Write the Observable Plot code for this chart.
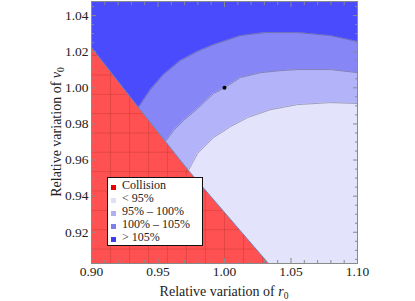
<!DOCTYPE html>
<html><head><meta charset="utf-8">
<script src="https://cdn.jsdelivr.net/npm/d3@7"></script>
<script src="https://cdn.jsdelivr.net/npm/@observablehq/plot@0.6"></script>
<style>
body{margin:0;background:#fff;}
#wrap{position:relative;width:415px;height:301px;font-family:"Liberation Serif","Times New Roman","DejaVu Serif",serif;color:#222;}
#wrap svg{position:absolute;left:0;top:0;}
.xlab{position:absolute;left:91px;width:266px;top:284px;text-align:center;font-size:14px;line-height:15px;white-space:nowrap;}
.ylab{position:absolute;left:56px;top:132px;font-size:14px;line-height:15px;white-space:nowrap;transform:translate(-50%,-50%) rotate(-90deg);}
.legend{position:absolute;left:107px;top:177px;width:96px;height:69px;border:1px solid #111;background:#fff;font-size:12px;line-height:13px;padding-top:1px;box-sizing:border-box;}
.legend .row{position:relative;height:13px;padding-left:14px;white-space:nowrap;}
.legend .sw{position:absolute;left:3px;top:6px;width:5px;height:5px;}
sub{font-size:9.5px;vertical-align:-3px;line-height:0;}
</style></head><body><div id="wrap"></div>
<script>
// ---- data ----
const xDomain = [0.90, 1.10];
const yDomain = [0.9027, 1.0478];
const collisionX = [0.9000, 0.9353, 0.9729, 1.0331];
const collisionY = [1.0223, 0.9891, 0.9542, 0.9027];
const c105X = [0.9353, 0.9444, 0.9541, 0.9669, 0.9797, 0.9917, 1.0120, 1.0308, 1.0549, 1.0797, 1.1000];
const c105Y = [0.9891, 0.9990, 1.0073, 1.0151, 1.0201, 1.0239, 1.0289, 1.0306, 1.0306, 1.0289, 1.0256];
const c100X = [0.9556, 0.9617, 0.9692, 0.9797, 0.9917, 1.0000, 1.0120, 1.0271, 1.0421, 1.0549, 1.0797, 1.1000];
const c100Y = [0.9702, 0.9763, 0.9819, 0.9885, 0.9968, 1.0000, 1.0057, 1.0084, 1.0095, 1.0101, 1.0101, 1.0084];
const c95X = [0.9729, 0.9797, 0.9917, 1.0045, 1.0173, 1.0346, 1.0549, 1.0797, 1.1000];
const c95Y = [0.9542, 0.9636, 0.9724, 0.9785, 0.9835, 0.9879, 0.9907, 0.9918, 0.9913];
const refPointX = [1.00];
const refPointY = [1.00];
const meshX = [0.9143, 0.9286, 0.9429, 0.9571, 0.9714, 0.9857, 1.0000, 1.0143, 1.0286];
const meshY = [0.9107, 0.9214, 0.9321, 0.9429, 0.9536, 0.9643, 0.9750, 0.9857, 0.9964, 1.0071, 1.0179];
const xMajor = [0.90, 0.95, 1.00, 1.05, 1.10];
const xMinor = [0.91, 0.92, 0.93, 0.94, 0.96, 0.97, 0.98, 0.99, 1.01, 1.02, 1.03, 1.04, 1.06, 1.07, 1.08, 1.09];
const yMajor = [0.92, 0.94, 0.96, 0.98, 1.00, 1.02, 1.04];
const yMinor = [0.905, 0.91, 0.915, 0.925, 0.93, 0.935, 0.945, 0.95, 0.955, 0.965, 0.97, 0.975, 0.985, 0.99, 0.995, 1.005, 1.01, 1.015, 1.025, 1.03, 1.035, 1.045];
const categories = ["Collision", "< 95%", "95% \u2013 100%", "100% \u2013 105%", "> 105%"];
const fillColors = ["#ff5151", "#e3e3fb", "#b3b3f9", "#8686f6", "#4b4bfe"];
const swatchColors = ["#e80000", "#e0e0f4", "#b0b0f0", "#8080ec", "#3c3cf4"];

// ---- build ----
const pts = (xs, ys) => xs.map((x, i) => ({x, y: ys[i]}));
const collision = pts(collisionX, collisionY);
const band = (xs, ys) => [{x: xDomain[0], y: yDomain[0]}, ...pts(xs, ys)];
const yAt = d3.scaleLinear().domain(collisionX).range(collisionY);
const xAt = d3.scaleLinear().domain(collisionY).range(collisionX);
const tickStroke = "#8a8a8a";
const fmt = d3.format(".2f");

const chart = Plot.plot({
  width: 415, height: 301,
  marginLeft: 91, marginRight: 58, marginTop: 1, marginBottom: 38,
  x: {domain: xDomain, axis: null},
  y: {domain: yDomain, axis: null},
  style: {fontFamily: "'Liberation Serif', 'Times New Roman', 'DejaVu Serif', serif", fontSize: "13.5px", color: "#222", background: "transparent"},
  marks: [
    Plot.frame({fill: fillColors[1], stroke: null}),
    Plot.areaY(band(c95X, c95Y), {x: "x", y1: "y", y2: () => yDomain[1], fill: fillColors[2]}),
    Plot.areaY(band(c100X, c100Y), {x: "x", y1: "y", y2: () => yDomain[1], fill: fillColors[3]}),
    Plot.areaY(band(c105X, c105Y), {x: "x", y1: "y", y2: () => yDomain[1], fill: fillColors[4]}),
    Plot.areaY(collision, {x: "x", y1: () => yDomain[0], y2: "y", fill: fillColors[0]}),
    Plot.ruleX(meshX, {x: d => d, y1: () => yDomain[0], y2: d => yAt(d), stroke: "#c23a3a", strokeOpacity: 0.55, strokeWidth: 0.8}),
    Plot.ruleY(meshY, {y: d => d, x1: () => xDomain[0], x2: d => xAt(d), stroke: "#c23a3a", strokeOpacity: 0.55, strokeWidth: 0.8}),
    Plot.line(pts(c95X, c95Y), {x: "x", y: "y", stroke: "#8a8ab4", strokeWidth: 0.8}),
    Plot.line(pts(c100X, c100Y), {x: "x", y: "y", stroke: "#7474a8", strokeWidth: 0.8}),
    Plot.line(pts(c105X, c105Y), {x: "x", y: "y", stroke: "#6a6aa8", strokeWidth: 0.8}),
    Plot.line(collision, {x: "x", y: "y", stroke: "#6f86b8", strokeWidth: 1}),
    Plot.dot(pts(refPointX, refPointY), {x: "x", y: "y", r: 2, fill: "#000", stroke: null}),
    Plot.axisX(xMajor, {anchor: "bottom", tickSize: 0, tickPadding: 3, tickFormat: fmt, label: null}),
    Plot.axisY(yMajor, {anchor: "left", tickSize: 0, tickPadding: 3, tickFormat: fmt, label: null}),
    Plot.axisX(xMajor, {anchor: "bottom", tickSize: -5, tickFormat: () => "", stroke: tickStroke, label: null}),
    Plot.axisX(xMinor, {anchor: "bottom", tickSize: -3, tickFormat: () => "", stroke: tickStroke, label: null}),
    Plot.axisX(xMajor, {anchor: "top", tickSize: -5, tickFormat: () => "", stroke: tickStroke, label: null}),
    Plot.axisX(xMinor, {anchor: "top", tickSize: -3, tickFormat: () => "", stroke: tickStroke, label: null}),
    Plot.axisY(yMajor, {anchor: "left", tickSize: -5, tickFormat: () => "", stroke: tickStroke, label: null}),
    Plot.axisY(yMinor, {anchor: "left", tickSize: -3, tickFormat: () => "", stroke: tickStroke, label: null}),
    Plot.axisY(yMajor, {anchor: "right", tickSize: -5, tickFormat: () => "", stroke: tickStroke, label: null}),
    Plot.axisY(yMinor, {anchor: "right", tickSize: -3, tickFormat: () => "", stroke: tickStroke, label: null}),
    Plot.frame({stroke: tickStroke, strokeWidth: 1})
  ]
});

const wrap = document.getElementById("wrap");
wrap.appendChild(chart);

const xl = document.createElement("div");
xl.className = "xlab";
xl.innerHTML = "Relative variation of <i>r</i><sub>0</sub>";
wrap.appendChild(xl);

const yl = document.createElement("div");
yl.className = "ylab";
yl.innerHTML = "Relative variation of <i>v</i><sub>0</sub>";
wrap.appendChild(yl);

const lg = document.createElement("div");
lg.className = "legend";
categories.forEach((c, i) => {
  const row = document.createElement("div");
  row.className = "row";
  const sw = document.createElement("span");
  sw.className = "sw";
  sw.style.background = swatchColors[i];
  row.appendChild(sw);
  row.appendChild(document.createTextNode(c));
  lg.appendChild(row);
});
wrap.appendChild(lg);
</script></body></html>
